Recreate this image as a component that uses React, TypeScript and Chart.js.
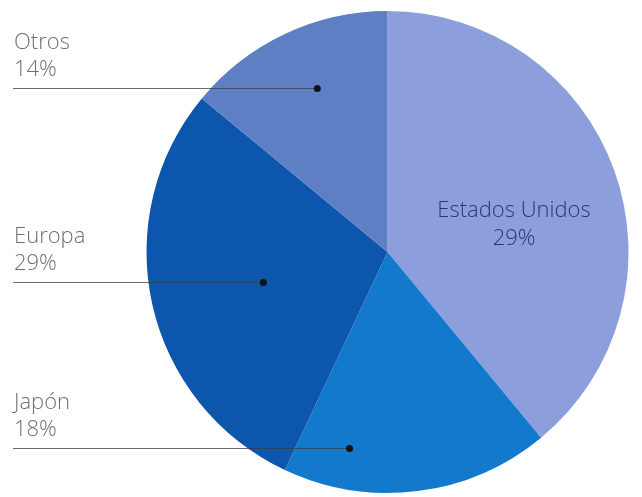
import { useEffect, useRef } from "react";
import { Chart, registerables } from "chart.js";

Chart.register(...registerables);

const categories = ["Estados Unidos", "Japón", "Europa", "Otros"];
const values = [39, 18, 29, 14];
const percentLabels = ["29%", "18%", "29%", "14%"];
const colors = ["#8c9edb", "#1279cd", "#0c57ad", "#5e7fc3"];

// label placement styling: [fraction along arc, fraction of radius, inside label?]
const placement = [
  { t: 0.55, f: 0.53, inside: true },
  { t: 0.78, f: 0.83, inside: false },
  { t: 0.49, f: 0.53, inside: false },
  { t: 0.54, f: 0.74, inside: false },
];

const FONT = "300 22px 'Open Sans', 'Lato', sans-serif";

const labelPlugin = {
  id: "sideLabels",
  afterDatasetsDraw(chart: any) {
    const ctx = chart.ctx;
    const meta = chart.getDatasetMeta(0);
    meta.data.forEach((arc: any, i: number) => {
      const p = placement[i];
      const a = arc.startAngle + p.t * (arc.endAngle - arc.startAngle);
      const r = p.f * arc.outerRadius;
      const x = arc.x + Math.cos(a) * r;
      const y = arc.y + Math.sin(a) * r;
      ctx.save();
      ctx.font = FONT;
      if (p.inside) {
        ctx.fillStyle = "#2b3a6b";
        ctx.textAlign = "center";
        ctx.textBaseline = "alphabetic";
        ctx.fillText(categories[i], x + 2, y - 7);
        ctx.fillText(percentLabels[i], x + 2, y + 21);
      } else {
        const left = 13;
        ctx.strokeStyle = "rgba(60,60,60,0.75)";
        ctx.lineWidth = 1;
        ctx.beginPath();
        ctx.moveTo(left, Math.round(y) + 0.5);
        ctx.lineTo(x, Math.round(y) + 0.5);
        ctx.stroke();
        ctx.fillStyle = "#111";
        ctx.beginPath();
        ctx.arc(x, Math.round(y) + 0.5, 3.5, 0, Math.PI * 2);
        ctx.fill();
        ctx.fillStyle = "#707070";
        ctx.textAlign = "left";
        ctx.textBaseline = "alphabetic";
        ctx.fillText(categories[i], left + 1, y - 39);
        ctx.fillText(percentLabels[i], left + 1, y - 12);
      }
      ctx.restore();
    });
  },
};

export default function App() {
  const ref = useRef<HTMLCanvasElement | null>(null);
  useEffect(() => {
    document.body.style.margin = "0";
    const chart = new Chart(ref.current as HTMLCanvasElement, {
      type: "pie",
      data: {
        labels: categories,
        datasets: [
          {
            data: values,
            backgroundColor: colors,
            borderWidth: 0,
          },
        ],
      },
      options: {
        responsive: false,
        animation: false,
        layout: { padding: { left: 145, right: 12, top: 11, bottom: 4 } },
        plugins: {
          legend: { display: false },
          tooltip: { enabled: false },
        },
      },
      plugins: [labelPlugin],
    });
    return () => chart.destroy();
  }, []);
  return (
    <div style={{ width: 642, height: 497, background: "#fff" }}>
      <canvas ref={ref} width={642} height={497} />
    </div>
  );
}
